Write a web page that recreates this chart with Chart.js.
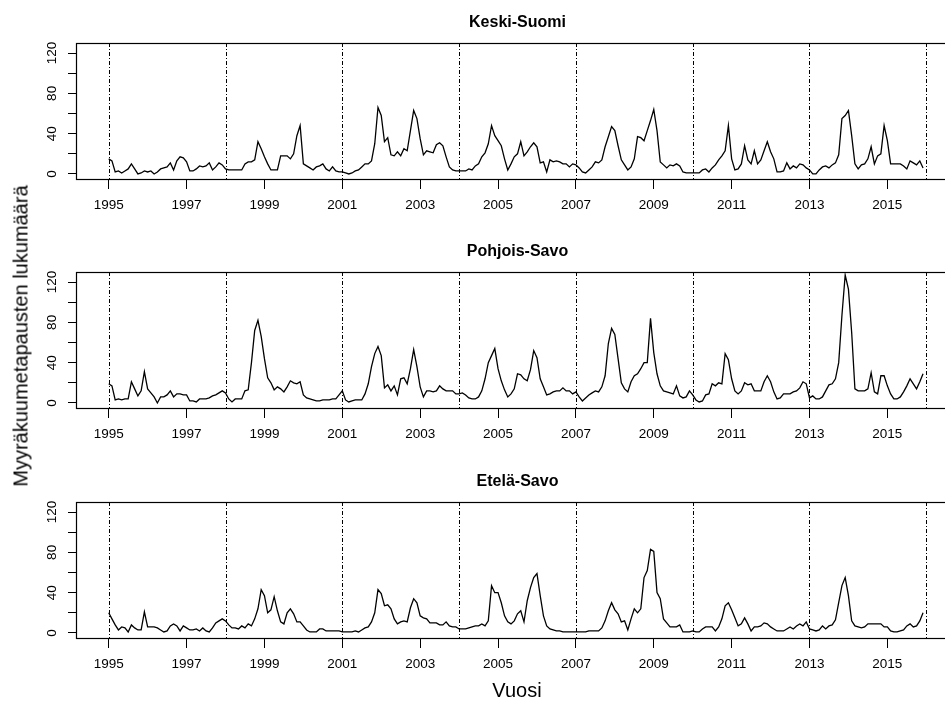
<!DOCTYPE html>
<html>
<head>
<meta charset="utf-8">
<script src="https://cdn.jsdelivr.net/npm/chart.js@4.4.1/dist/chart.umd.min.js"></script>
<style>
  body { margin: 0; width: 945px; height: 702px; overflow: hidden; background: #fff;
         font-family: "Liberation Sans", Arial, sans-serif; }
  .panel { position: absolute; left: 0; width: 960px; height: 230px; }
  #ytitle { position: absolute; left: 21px; top: 336px; transform: translate(-50%, -50%) rotate(-90deg);
            white-space: nowrap; font-size: 20px; color: #000; }
  #xtitle { position: absolute; left: 517px; top: 690px; transform: translate(-50%, -50%);
            font-size: 20px; color: #000; }
</style>
</head>
<body>
<canvas id="c1" class="panel" width="960" height="230" style="top:0px"></canvas>
<canvas id="c2" class="panel" width="960" height="230" style="top:229px"></canvas>
<canvas id="c3" class="panel" width="960" height="230" style="top:459px"></canvas>
<div id="ytitle">Myyräkuumetapausten lukumäärä</div>
<div id="xtitle">Vuosi</div>
<script>
// monthly counts, Jan 1995 - Dec 2015
const startYear = 1995;
const keskiSuomi = [
  15, 13, 2, 3, 1, 3, 5, 10, 5, 0, 1, 3,
  2, 3, 0, 2, 5, 6, 7, 11, 4, 13, 17, 16,
  12, 3, 3, 5, 8, 7, 8, 11, 4, 7, 11, 9,
  5, 4, 4, 4, 4, 4, 10, 12, 12, 14, 32, 25,
  17, 10, 4, 4, 4, 18, 18, 18, 15, 20, 38, 48,
  10, 8, 6, 4, 7, 8, 10, 5, 3, 7, 3, 2,
  2, 1, 0, 1, 3, 4, 7, 10, 10, 13, 30, 66,
  58, 32, 36, 19, 18, 22, 18, 25, 23, 43, 63, 55,
  35, 19, 23, 22, 21, 29, 31, 28, 17, 7, 4, 3,
  3, 3, 3, 5, 4, 8, 10, 17, 21, 30, 48, 38,
  33, 28, 15, 4, 10, 17, 20, 32, 18, 22, 27, 31,
  27, 11, 12, 2, 14, 12, 13, 12, 10, 10, 7, 10,
  9, 6, 2, 1, 4, 7, 12, 11, 14, 27, 37, 47,
  43, 28, 14, 9, 4, 7, 15, 37, 36, 33, 43, 53,
  64, 43, 12, 9, 6, 9, 8, 10, 8, 2, 1, 1,
  1, 1, 1, 4, 5, 2, 6, 9, 14, 18, 23, 48,
  15, 4, 5, 10, 28, 14, 10, 23, 10, 14, 23, 32,
  22, 15, 2, 2, 3, 11, 5, 8, 6, 10, 9, 6,
  4, 0, 0, 4, 7, 8, 6, 9, 11, 19, 55, 58,
  63, 38, 10, 5, 9, 10, 15, 27, 10, 18, 20, 48,
  33, 10, 10, 10, 10, 8, 5, 13, 11, 9, 13, 6
];
const pohjoisSavo = [
  19, 17, 3, 4, 3, 4, 4, 21, 14, 7, 12, 31,
  14, 10, 6, 0, 6, 6, 8, 12, 6, 9, 9, 8,
  8, 2, 2, 1, 4, 4, 4, 5, 7, 8, 10, 12,
  10, 4, 1, 4, 4, 4, 12, 13, 40, 72, 82, 66,
  44, 25, 20, 13, 16, 14, 11, 16, 22, 20, 19, 21,
  8, 5, 4, 3, 2, 2, 3, 3, 3, 4, 4, 8,
  12, 3, 1, 2, 3, 3, 3, 9, 19, 36, 49, 56,
  47, 15, 18, 12, 17, 8, 24, 25, 19, 34, 53, 36,
  16, 6, 12, 12, 11, 12, 17, 14, 12, 12, 12, 9,
  9, 10, 8, 5, 4, 4, 6, 12, 24, 40, 47, 54,
  34, 22, 13, 6, 9, 14, 29, 28, 24, 22, 33, 52,
  45, 24, 16, 8, 9, 11, 12, 12, 15, 12, 12, 9,
  11, 6, 2, 5, 8, 10, 12, 11, 16, 27, 59, 74,
  68, 44, 20, 14, 11, 21, 27, 29, 34, 40, 40, 84,
  50, 29, 17, 12, 11, 10, 9, 17, 7, 5, 6, 12,
  8, 3, 1, 2, 8, 9, 19, 17, 20, 19, 49, 43,
  24, 12, 9, 12, 20, 18, 19, 12, 12, 12, 21, 27,
  21, 11, 4, 5, 9, 9, 9, 11, 12, 15, 21, 19,
  5, 7, 4, 4, 6, 12, 18, 19, 24, 40, 87, 127,
  113, 70, 14, 12, 12, 12, 14, 30, 11, 9, 27, 27,
  17, 9, 4, 4, 6, 11, 17, 24, 19, 14, 21, 29
];
const etelaSavo = [
  20, 14, 8, 3, 6, 5, 1, 8, 5, 3, 3, 21,
  6, 6, 6, 5, 3, 1, 2, 7, 9, 7, 2, 7,
  5, 3, 3, 4, 2, 5, 2, 1, 5, 10, 12, 14,
  12, 8, 5, 5, 4, 7, 5, 9, 7, 14, 24, 43,
  37, 20, 23, 36, 22, 11, 9, 20, 24, 19, 11, 11,
  7, 3, 1, 1, 1, 4, 4, 2, 2, 2, 2, 2,
  1, 1, 1, 1, 2, 1, 3, 5, 6, 11, 20, 43,
  39, 27, 28, 24, 14, 9, 11, 12, 11, 25, 34, 30,
  17, 15, 14, 10, 10, 10, 8, 8, 11, 7, 6, 6,
  4, 4, 4, 5, 6, 7, 7, 9, 7, 12, 47, 40,
  40, 30, 17, 11, 9, 12, 19, 22, 11, 32, 45, 55,
  59, 37, 17, 7, 4, 3, 2, 2, 1, 1, 1, 1,
  1, 1, 1, 1, 2, 2, 2, 2, 5, 12, 22, 30,
  23, 19, 11, 12, 3, 14, 24, 20, 24, 55, 62, 83,
  81, 40, 34, 14, 10, 6, 6, 6, 8, 1, 1, 1,
  2, 1, 1, 4, 6, 6, 6, 2, 6, 14, 27, 30,
  23, 15, 7, 9, 15, 9, 2, 6, 6, 7, 10, 9,
  6, 4, 2, 2, 2, 4, 6, 4, 7, 9, 7, 11,
  4, 3, 2, 3, 7, 4, 7, 8, 13, 30, 47, 55,
  37, 12, 7, 6, 5, 6, 9, 9, 9, 9, 9, 6,
  6, 2, 1, 1, 2, 3, 7, 9, 6, 7, 12, 20
];
const titles = ['Keski-Suomi', 'Pohjois-Savo', 'Etelä-Savo'];
const xTickYears = [1995, 1997, 1999, 2001, 2003, 2005, 2007, 2009, 2011, 2013, 2015];
const yTickValues = [0, 20, 40, 60, 80, 100, 120];
const yLabelValues = [0, 40, 80, 120];
const breakYears = [1995, 1998, 2001, 2004, 2007, 2010, 2013, 2016];

const FONT = '"Liberation Sans", Arial, sans-serif';

// box, dashed year lines, rotated y labels and panel title
const panelPlugin = {
  id: 'panel',
  beforeDatasetsDraw(chart) {
    const ctx = chart.ctx, a = chart.chartArea, xs = chart.scales.x;
    ctx.save();
    ctx.strokeStyle = '#000';
    ctx.lineWidth = 1;
    ctx.setLineDash([4, 2, 1, 2]);
    breakYears.forEach(yr => {
      const x = Math.round(xs.getPixelForValue(yr)) + 0.5;
      ctx.beginPath();
      ctx.moveTo(x, a.top);
      ctx.lineTo(x, a.bottom);
      ctx.stroke();
    });
    ctx.restore();
  },
  afterDraw(chart) {
    const ctx = chart.ctx, a = chart.chartArea, ys = chart.scales.y;
    ctx.save();
    ctx.strokeStyle = '#000';
    ctx.lineWidth = 1.2;
    ctx.strokeRect(a.left + 0.5, a.top + 0.5, a.right - a.left, a.bottom - a.top);
    ctx.fillStyle = '#000';
    ctx.font = '13.5px ' + FONT;
    ctx.textAlign = 'center';
    ctx.textBaseline = 'middle';
    yLabelValues.forEach(v => {
      ctx.save();
      ctx.translate(52, ys.getPixelForValue(v));
      ctx.rotate(-Math.PI / 2);
      ctx.fillText(String(v), 0, 0);
      ctx.restore();
    });
    ctx.font = 'bold 16px ' + FONT;
    ctx.fillText(chart.options.plugins.panel.title, (a.left + a.right) / 2, 23);
    ctx.restore();
  }
};

function makePanel(id, values, title) {
  const pts = values.map((v, i) => ({ x: startYear + i / 12, y: v }));
  return new Chart(document.getElementById(id), {
    type: 'line',
    data: { datasets: [{ data: pts, borderColor: '#000', borderWidth: 1.3, pointRadius: 0, tension: 0, fill: false }] },
    options: {
      responsive: false,
      animation: false,
      devicePixelRatio: 1,
      layout: { padding: { top: 43, right: 1, left: 0, bottom: 0 } },
      plugins: { legend: { display: false }, tooltip: { enabled: false }, panel: { title: title } },
      scales: {
        x: {
          type: 'linear', min: 1994.16, max: 2016.84,
          afterBuildTicks: s => { s.ticks = xTickYears.map(v => ({ value: v })); },
          afterFit: s => { s.height = 51; },
          border: { display: false },
          grid: { drawOnChartArea: false, tickLength: 10, lineWidth: 1, color: '#000' },
          ticks: { color: '#000', font: { family: FONT, size: 13.5 }, padding: 8, maxRotation: 0, autoSkip: false,
                   callback: v => String(v) }
        },
        y: {
          min: -5, max: 130,
          afterBuildTicks: s => { s.ticks = yTickValues.map(v => ({ value: v })); },
          afterFit: s => { s.width = 76; },
          border: { display: false },
          grid: { drawOnChartArea: false, tickLength: 8, color: '#000', lineWidth: 1 },
          ticks: { callback: () => '', padding: 0 }
        }
      }
    },
    plugins: [panelPlugin]
  });
}

makePanel('c1', keskiSuomi, titles[0]);
makePanel('c2', pohjoisSavo, titles[1]);
makePanel('c3', etelaSavo, titles[2]);
</script>
</body>
</html>
